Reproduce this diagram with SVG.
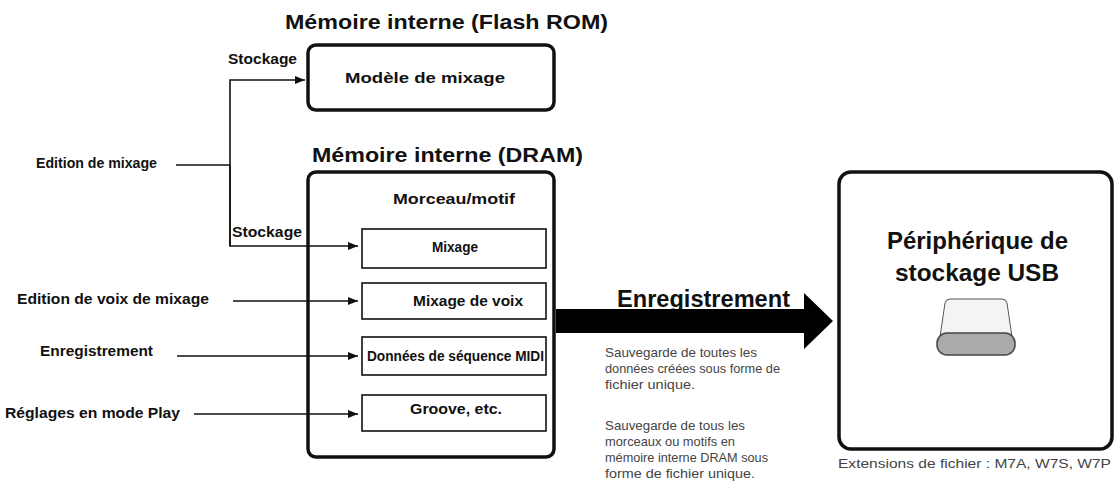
<svg xmlns="http://www.w3.org/2000/svg" width="1118" height="490" viewBox="0 0 1118 490">
<style>
text{font-family:"Liberation Sans",Arial,sans-serif;fill:#111}
.t{font-weight:bold;font-size:21px}
.l{font-weight:bold;font-size:14px}
.s{font-size:13px;fill:#444}
.big{fill:none;stroke:#111;stroke-width:3.5}
.box{fill:#fff;stroke:#111;stroke-width:1.6}
.ln{fill:none;stroke:#111;stroke-width:1.6}
</style>
<defs><marker id="a" markerWidth="10" markerHeight="8" refX="10" refY="4" orient="auto" markerUnits="userSpaceOnUse"><path d="M0,0L10,4L0,8z" fill="#111"/></marker></defs>
<g id="flash"><text class="t" x="285" y="29" textLength="323" lengthAdjust="spacingAndGlyphs">Mémoire interne (Flash ROM)</text>
<rect class="big" x="308" y="45" width="246" height="65" rx="8"/>
<text class="l" x="345" y="83" style="font-size:15px" textLength="160" lengthAdjust="spacingAndGlyphs">Modèle de mixage</text></g>
<g id="dram"><text class="t" x="312" y="162" textLength="271" lengthAdjust="spacingAndGlyphs">Mémoire interne (DRAM)</text>
<rect class="big" x="308" y="172" width="246" height="285" rx="8"/>
<text class="l" x="393" y="204" textLength="122" lengthAdjust="spacingAndGlyphs">Morceau/motif</text></g>
<g id="mixage"><rect class="box" x="362" y="229" width="184" height="39"/><text class="l" x="432" y="252" textLength="46" lengthAdjust="spacingAndGlyphs">Mixage</text></g>
<g id="voix"><rect class="box" x="362" y="283" width="184" height="36"/><text class="l" x="413" y="306" textLength="110" lengthAdjust="spacingAndGlyphs">Mixage de voix</text></g>
<g id="midi"><rect class="box" x="362" y="337" width="184" height="38"/><text class="l" x="367" y="361" textLength="177" lengthAdjust="spacingAndGlyphs">Données de séquence MIDI</text></g>
<g id="groove"><rect class="box" x="362" y="395" width="184" height="36"/><text class="l" x="410" y="414" textLength="92" lengthAdjust="spacingAndGlyphs">Groove, etc.</text></g>
<g id="usb"><rect class="big" x="839" y="172" width="273" height="277" rx="12"/>
<text class="t" x="887" y="249" style="font-size:23px" textLength="181" lengthAdjust="spacingAndGlyphs">Périphérique de</text>
<text class="t" x="895" y="281" style="font-size:23px" textLength="164" lengthAdjust="spacingAndGlyphs">stockage USB</text>
<path d="M950,299 h52 q4,0 5,4 l5,34 h-72 l5,-34 q1,-4 5,-4z" fill="#f4f4f4" stroke="#555" stroke-width="1"/>
<rect x="937" y="333" width="78" height="22" rx="10" fill="#aaa" stroke="#444" stroke-width="1.5"/>
<text class="s" x="838" y="468" textLength="273" lengthAdjust="spacingAndGlyphs">Extensions de fichier : M7A, W7S, W7P</text></g>
<g id="labels">
<text class="l" x="228" y="64" textLength="69" lengthAdjust="spacingAndGlyphs">Stockage</text>
<text class="l" x="232" y="237" textLength="70" lengthAdjust="spacingAndGlyphs">Stockage</text>
<text class="l" x="36" y="168" textLength="121" lengthAdjust="spacingAndGlyphs">Edition de mixage</text>
<text class="l" x="17" y="304" textLength="192" lengthAdjust="spacingAndGlyphs">Edition de voix de mixage</text>
<text class="l" x="40" y="356" textLength="113" lengthAdjust="spacingAndGlyphs">Enregistrement</text>
<text class="l" x="5" y="418" textLength="175" lengthAdjust="spacingAndGlyphs">Réglages en mode Play</text>
<text x="617" y="307" style="font-weight:bold;font-size:23px" textLength="173" lengthAdjust="spacingAndGlyphs">Enregistrement</text>
<text class="s" x="605" y="357" textLength="152" lengthAdjust="spacingAndGlyphs">Sauvegarde de toutes les</text>
<text class="s" x="605" y="373" textLength="175" lengthAdjust="spacingAndGlyphs">données créées sous forme de</text>
<text class="s" x="605" y="389" textLength="90" lengthAdjust="spacingAndGlyphs">fichier unique.</text>
<text class="s" x="605" y="430" textLength="140" lengthAdjust="spacingAndGlyphs">Sauvegarde de tous les</text>
<text class="s" x="605" y="446" textLength="130" lengthAdjust="spacingAndGlyphs">morceaux ou motifs en</text>
<text class="s" x="605" y="462" textLength="163" lengthAdjust="spacingAndGlyphs">mémoire interne DRAM sous</text>
<text class="s" x="605" y="478" textLength="150" lengthAdjust="spacingAndGlyphs">forme de fichier unique.</text>
</g>
<g id="connectors">
<path class="ln" d="M176,165H230"/>
<path class="ln" d="M230,246V80H305" marker-end="url(#a)"/>
<path class="ln" d="M230,165V246H358" marker-end="url(#a)"/>
<path class="ln" d="M233,301H358" marker-end="url(#a)"/>
<path class="ln" d="M177,356H358" marker-end="url(#a)"/>
<path class="ln" d="M194,414H358" marker-end="url(#a)"/>
<path d="M556,309H804V293L833,321L804,349V333H556z" fill="#000"/>
</g>
</svg>
